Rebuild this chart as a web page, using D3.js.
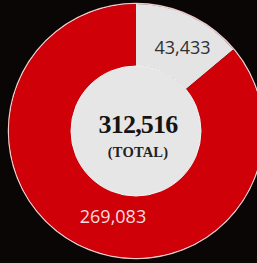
<!DOCTYPE html>
<html>
<head>
<meta charset="utf-8">
<script src="https://cdn.jsdelivr.net/npm/d3@7"></script>
<style>
  html, body { margin: 0; padding: 0; background: #0b0606; }
  svg { display: block; }
</style>
</head>
<body>
<div id="chart"></div>
<script>
// data
var categories = ["Other", "Main"];
var values = [43433, 269083];
var totalLabel = "(TOTAL)";

var W = 257, H = 263;
var cx = 136, cy = 131;
var outerR = 127, innerR = 65;

var colors = d3.scaleOrdinal().domain(categories).range(["#e4e4e4", "#d00009"]);
var textColors = d3.scaleOrdinal().domain(categories).range(["#303030", "#f6dede"]);
// label angle / radius per slice (degrees from top, clockwise)
var labelPos = { "Other": [29, 96], "Main": [195, 89] };

var fmt = d3.format(",");
var total = d3.sum(values);

var svg = d3.select("#chart").append("svg")
    .attr("width", W)
    .attr("height", H);

svg.append("rect").attr("width", W).attr("height", H).attr("fill", "#0b0606");

var g = svg.append("g").attr("transform", "translate(" + cx + "," + cy + ")");

var data = categories.map(function(c, i) { return { name: c, value: values[i] }; });

var pie = d3.pie().sort(null).value(function(d) { return d.value; });
var arc = d3.arc().innerRadius(innerR).outerRadius(outerR);

// outer thin light ring
g.append("circle")
    .attr("r", outerR + 0.5)
    .attr("fill", "none")
    .attr("stroke", "#f3c9c9")
    .attr("stroke-width", 1.5);

g.selectAll("path.slice")
    .data(pie(data))
    .enter().append("path")
    .attr("class", "slice")
    .attr("d", arc)
    .attr("fill", function(d) { return colors(d.data.name); });

// center disc
g.append("circle")
    .attr("r", innerR)
    .attr("fill", "#e6e6e6")
    .attr("stroke", "#f4f4f4")
    .attr("stroke-width", 1);

// slice labels
g.selectAll("text.lbl")
    .data(pie(data))
    .enter().append("text")
    .attr("class", "lbl")
    .attr("x", function(d) { var p = labelPos[d.data.name]; return p[1] * Math.sin(p[0] * Math.PI / 180); })
    .attr("y", function(d) { var p = labelPos[d.data.name]; return -p[1] * Math.cos(p[0] * Math.PI / 180); })
    .attr("dy", "0.36em")
    .attr("text-anchor", "middle")
    .attr("font-family", "'Open Sans', sans-serif")
    .attr("font-size", 18)
    .attr("fill", function(d) { return textColors(d.data.name); })
    .text(function(d) { return fmt(d.data.value); });

// total
g.append("text")
    .attr("x", 2)
    .attr("y", 2)
    .attr("text-anchor", "middle")
    .attr("font-family", "'Liberation Serif', serif")
    .attr("font-weight", "bold")
    .attr("font-size", 26)
    .attr("letter-spacing", -0.8)
    .attr("fill", "#161313")
    .text(fmt(total));

g.append("text")
    .attr("x", 2)
    .attr("y", 26)
    .attr("text-anchor", "middle")
    .attr("font-family", "'Liberation Serif', serif")
    .attr("font-weight", "bold")
    .attr("font-size", 14.5)
    .attr("letter-spacing", 0.2)
    .attr("fill", "#222")
    .text(totalLabel);
</script>
</body>
</html>
